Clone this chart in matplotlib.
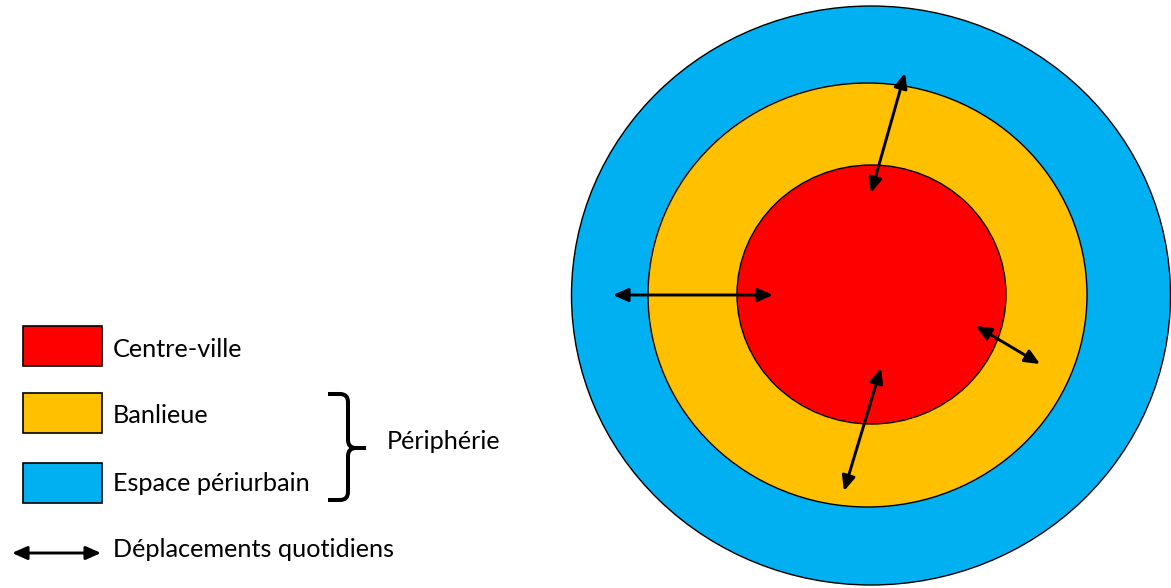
import matplotlib
matplotlib.use("Agg")
import matplotlib.pyplot as plt
from matplotlib.patches import Ellipse, Rectangle, FancyArrowPatch, PathPatch
from matplotlib.path import Path

# ---- data ----
zone_labels = ["Centre-ville", "Banlieue", "Espace périurbain"]
zone_colors = ["#FF0000", "#FFC000", "#00B0F0"]
# concentric zones: centre x, centre y, half-width, half-height
zone_cx = [871.5, 867.5, 871.0]
zone_cy = [294.5, 295.0, 295.5]
zone_rx = [134.5, 219.5, 299.5]
zone_ry = [129.5, 212.0, 289.5]
group_label = "Périphérie"
arrow_label = "Déplacements quotidiens"
# daily commute arrows: (x1, y1, x2, y2)
arrow_start_x = [871, 613, 976, 881]
arrow_start_y = [193, 295, 326, 368]
arrow_end_x = [905, 773, 1040, 844]
arrow_end_y = [73, 295, 364, 491]

plt.rcParams["font.family"] = ["Lato", "DejaVu Sans"]

W, H = 1171, 588
fig = plt.figure(figsize=(W / 100, H / 100), dpi=100)
ax = fig.add_axes([0, 0, 1, 1])
ax.set_xlim(0, W)
ax.set_ylim(H, 0)
ax.axis("off")

# zones, outermost first
for i in reversed(range(len(zone_labels))):
    ax.add_patch(Ellipse((zone_cx[i], zone_cy[i]), 2 * zone_rx[i], 2 * zone_ry[i],
                         facecolor=zone_colors[i], edgecolor="black", lw=1.0, zorder=1 + (2 - i)))

def darrow(x1, y1, x2, y2):
    ax.add_patch(FancyArrowPatch((x1, y1), (x2, y2),
                                 arrowstyle="<|-|>,head_length=0.9,head_width=0.4",
                                 mutation_scale=10, lw=2.1, color="black",
                                 shrinkA=0, shrinkB=0, zorder=10))

for x1, y1, x2, y2 in zip(arrow_start_x, arrow_start_y, arrow_end_x, arrow_end_y):
    darrow(x1, y1, x2, y2)

FS = 18.2
# legend boxes
box_top = [326, 393, 463]
text_base = [357, 423, 491]
for i, lab in enumerate(zone_labels):
    ax.add_patch(Rectangle((23, box_top[i]), 79, 40, facecolor=zone_colors[i],
                           edgecolor="black", lw=1.2, zorder=5))
    ax.text(113, text_base[i], lab, fontsize=FS, va="baseline", ha="left", color="black")

# brace
verts = [(328, 394), (340, 394), (348, 394), (348, 402), (348, 440),
         (348, 448), (356, 448), (366, 448),
         (356, 448), (348, 448), (348, 456), (348, 492),
         (348, 500), (340, 500), (328, 500)]
codes = [Path.MOVETO, Path.LINETO, Path.CURVE3, Path.CURVE3, Path.LINETO,
         Path.CURVE3, Path.CURVE3, Path.LINETO,
         Path.MOVETO, Path.CURVE3, Path.CURVE3, Path.LINETO,
         Path.CURVE3, Path.CURVE3, Path.LINETO]
ax.add_patch(PathPatch(Path(verts, codes), facecolor="none", edgecolor="black",
                       lw=2.9, capstyle="butt", joinstyle="round", zorder=5))
ax.text(387, 449, group_label, fontsize=FS, va="baseline", ha="left", color="black")

darrow(12, 553, 101, 553)
ax.text(113, 557, arrow_label, fontsize=FS, va="baseline", ha="left", color="black")

fig.savefig("out.png", dpi=100)
